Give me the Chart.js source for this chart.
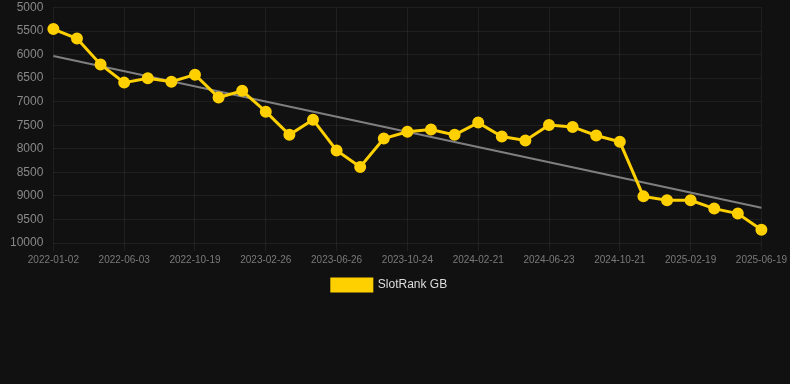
<!DOCTYPE html>
<html>
<head>
<meta charset="utf-8">
<script src="https://cdn.jsdelivr.net/npm/chart.js@4/dist/chart.umd.min.js"></script>
<style>
  html, body { margin: 0; padding: 0; background: #111111; }
  #wrap { width: 790px; height: 384px; position: relative; }
</style>
</head>
<body>
<div id="wrap"><canvas id="c" width="790" height="384"></canvas></div>
<script>
const dates = [
  "2022-01-02","2022-02-22","2022-04-14","2022-06-03","2022-07-19","2022-09-03",
  "2022-10-19","2022-12-02","2023-01-14","2023-02-26","2023-04-07","2023-05-17",
  "2023-06-26","2023-08-05","2023-09-14","2023-10-24","2023-12-03","2024-01-12",
  "2024-02-21","2024-04-01","2024-05-12","2024-06-23","2024-08-02","2024-09-11",
  "2024-10-21","2024-12-01","2025-01-10","2025-02-19","2025-03-31","2025-05-10",
  "2025-06-19"
];
const slotRankGB = [
  5457, 5660, 6208, 6595, 6503, 6574, 6426, 6911, 6770, 7212,
  7704, 7381, 8034, 8386, 7781, 7640, 7592, 7704, 7444, 7739,
  7823, 7493, 7535, 7718, 7851, 9010, 9094, 9094, 9270, 9376,
  9720
];
const trendStart = 6030;
const trendEnd = 9250;
const yTicksMin = 5000;
const yTicksMax = 10000;
const yTickStep = 500;

const ctx = document.getElementById('c').getContext('2d');
new Chart(ctx, {
  type: 'line',
  data: {
    labels: dates,
    datasets: [
      {
        label: 'SlotRank GB',
        data: slotRankGB,
        borderColor: '#FFD000',
        backgroundColor: '#FFD000',
        borderWidth: 3,
        pointRadius: 4.5,
        pointHoverRadius: 4.5,
        pointBackgroundColor: '#FFD000',
        pointBorderColor: '#FFD000',
        tension: 0,
        order: 1
      },
      {
        label: 'trend',
        data: [{x: dates[0], y: trendStart}, {x: dates[dates.length - 1], y: trendEnd}],
        borderColor: 'rgba(140,140,140,0.9)',
        borderWidth: 2,
        pointRadius: 0,
        tension: 0,
        order: 2
      }
    ]
  },
  options: {
    responsive: false,
    animation: false,
    layout: { padding: { left: 0, right: 11, top: 0, bottom: 83 } },
    scales: {
      x: {
        offset: false,
        grid: { color: 'rgba(255,255,255,0.06)', drawTicks: true, tickLength: 8 },
        border: { display: false },
        ticks: {
          color: '#7a7a7a',
          font: { family: 'Liberation Sans, Arial, sans-serif', size: 10 },
          maxRotation: 0,
          autoSkip: true,
          maxTicksLimit: 11
        }
      },
      y: {
        reverse: true,
        min: yTicksMin,
        max: yTicksMax,
        afterFit: (scale) => { scale.width += 10; },
        grid: { color: 'rgba(255,255,255,0.06)', drawTicks: true, tickLength: 10, tickColor: 'rgba(0,0,0,0)' },
        border: { display: false },
        ticks: {
          stepSize: yTickStep,
          padding: 0,
          color: '#888888',
          font: { family: 'Liberation Sans, Arial, sans-serif', size: 12, lineHeight: 1 },
          callback: (v) => String(v)
        }
      }
    },
    plugins: {
      legend: {
        position: 'bottom',
        labels: {
          boxWidth: 40,
          boxHeight: 12,
          color: '#dddddd',
          font: { family: 'Liberation Sans, Arial, sans-serif', size: 12 },
          filter: (item) => item.text !== 'trend'
        }
      },
      tooltip: { enabled: false }
    }
  }
});
</script>
</body>
</html>
